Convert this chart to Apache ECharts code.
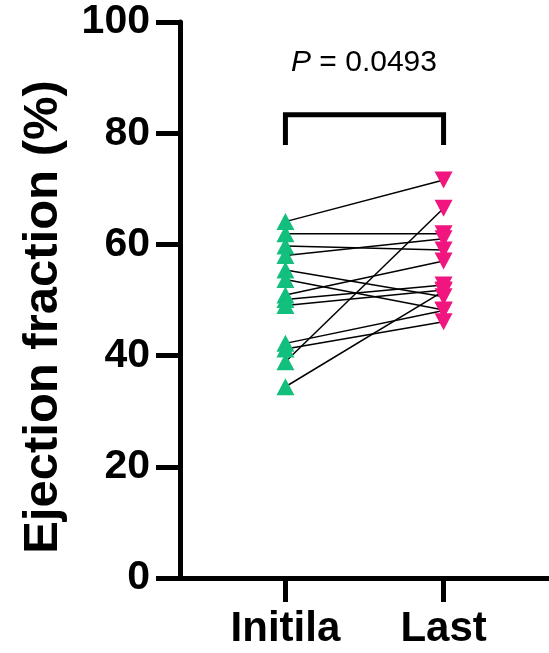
<!DOCTYPE html>
<html>
<head>
<meta charset="utf-8">
<script src="https://cdn.jsdelivr.net/npm/echarts@6/dist/echarts.min.js"></script>
<style>
  html, body { margin: 0; padding: 0; background: #fff; }
  #chart { width: 549px; height: 653px; }
</style>
</head>
<body>
<div id="chart"></div>
<script>
// groups on the x axis
var categories = ['Initila', 'Last'];
// ejection fraction (%) per patient, paired by index
var initialEF = [64.1, 61.9, 59.7, 58.0, 55.4, 53.7, 50.9, 50.1, 49.0, 42.2, 41.2, 38.9, 34.4];
var lastEF    = [71.6, 61.9, 59.0, 61.0, 50.6, 48.2, 57.0, 52.7, 51.8, 48.1, 46.1, 66.5, 51.6];
var yTicks = [0, 20, 40, 60, 80, 100];
var pText = '0.0493';

var FONT = '"Liberation Sans", Arial, sans-serif';
// where each group sits on the (hidden-scale) x axis
var catX = [2, 5];
var bracketTop = 83.3, bracketLeg = 77.9;

var myChart = echarts.init(document.getElementById('chart'));

var series = [];
// paired lines
for (var i = 0; i < initialEF.length; i++) {
	series.push({
		type: 'line',
		data: [[catX[0], initialEF[i]], [catX[1], lastEF[i]]],
		symbol: 'none',
		lineStyle: { color: '#000', width: 1.5 },
		silent: true,
		z: 2
	});
}
// markers
series.push({
	type: 'scatter',
	data: initialEF.map(function (v) { return [catX[0], v]; }),
	symbol: 'triangle',
	symbolSize: [18, 17],
	itemStyle: { color: '#12BF7C', opacity: 1 },
	z: 3
});
series.push({
	type: 'scatter',
	data: lastEF.map(function (v) { return [catX[1], v]; }),
	symbol: 'triangle',
	symbolRotate: 180,
	symbolSize: [18, 17],
	itemStyle: { color: '#F0157F', opacity: 1 },
	z: 3
});
// significance bracket
series.push({
	type: 'line',
	data: [[catX[0], bracketLeg], [catX[0], bracketTop], [catX[1], bracketTop], [catX[1], bracketLeg]],
	symbol: 'none',
	lineStyle: { color: '#000', width: 5, join: 'miter', cap: 'butt' },
	silent: true,
	z: 2
});

var option = {
	animation: false,
	backgroundColor: '#fff',
	title: {
		text: '{i|P} = ' + pText,
		left: 286,
		top: 43,
		textStyle: {
			fontFamily: FONT,
			fontSize: 30,
			fontWeight: 'normal',
			color: '#000',
			rich: {
				i: { fontFamily: FONT, fontSize: 30, fontStyle: 'italic', color: '#000' }
			}
		}
	},
	grid: { left: 180, right: 0, top: 22, bottom: 75, containLabel: false },
	xAxis: {
		type: 'value',
		min: 0,
		max: 7,
		splitLine: { show: false },
		axisLine: { show: true, lineStyle: { color: '#000', width: 5 } },
		axisTick: { show: true, customValues: catX, length: 24, lineStyle: { color: '#000', width: 5 } },
		axisLabel: {
			customValues: catX,
			margin: 30,
			fontFamily: FONT,
			fontSize: 42,
			fontWeight: 'bold',
			color: '#000',
			formatter: function (v) {
				var idx = catX.indexOf(v);
				return idx >= 0 ? categories[idx] : '';
			}
		}
	},
	yAxis: {
		type: 'value',
		min: yTicks[0],
		max: yTicks[yTicks.length - 1],
		interval: 20,
		name: 'Ejection fraction (%)',
		nameLocation: 'middle',
		nameGap: 112,
		nameTextStyle: {
			fontFamily: FONT, fontSize: 49, fontWeight: 'bold', color: '#000',
			padding: [0, 34, 0, 0]
		},
		splitLine: { show: false },
		axisLine: { show: true, lineStyle: { color: '#000', width: 5 } },
		axisTick: { show: true, length: 24, lineStyle: { color: '#000', width: 5 } },
		axisLabel: {
			margin: 30,
			fontFamily: FONT,
			fontSize: 41,
			fontWeight: 'bold',
			color: '#000'
		}
	},
	series: series
};
myChart.setOption(option);
</script>
</body>
</html>
